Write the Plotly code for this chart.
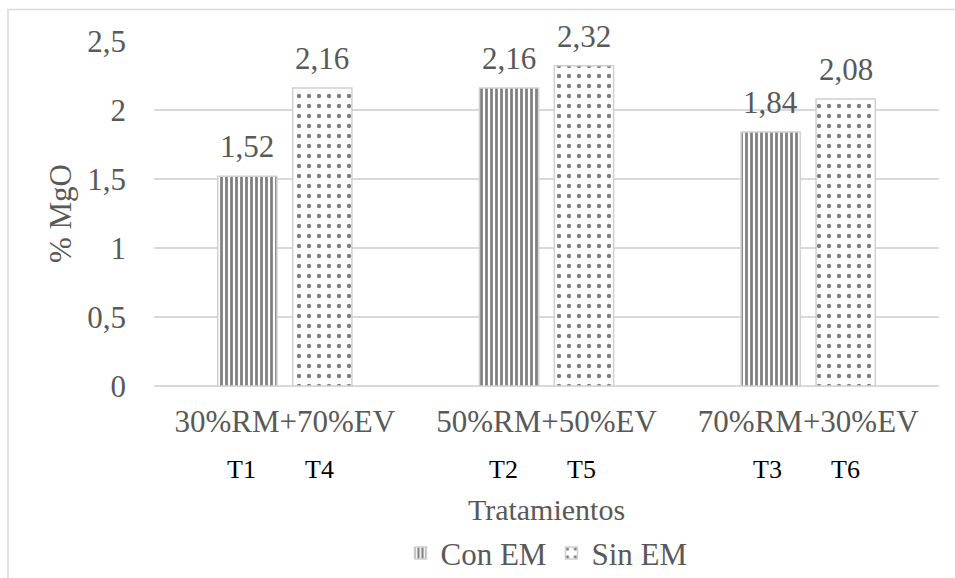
import plotly.graph_objects as go

categories = ["30%RM+70%EV", "50%RM+50%EV", "70%RM+30%EV"]
con_em = [1.52, 2.16, 1.84]
sin_em = [2.16, 2.32, 2.08]
t_con = ["T1", "T2", "T3"]
t_sin = ["T4", "T5", "T6"]
y_ticks = [0, 0.5, 1, 1.5, 2, 2.5]
y_tick_text = ["0", "0,5", "1", "1,5", "2", "2,5"]

def fmt(v):
    return f"{v:.2f}".replace(".", ",")

FONT = "Times New Roman, Liberation Serif, DejaVu Serif, serif"
GRAY = "#595959"

fig = go.Figure()
fig.add_trace(go.Bar(
    name="Con EM", x=categories, y=con_em,
    marker=dict(color="white", line=dict(color="#d0d0d0", width=1.5),
                pattern=dict(shape="|", fgcolor="black", bgcolor="white",
                             size=5, solidity=0.55, fillmode="overlay")),
))
fig.add_trace(go.Bar(
    name="Sin EM", x=categories, y=sin_em,
    marker=dict(color="white", line=dict(color="#d0d0d0", width=1.5),
                pattern=dict(shape=".", fgcolor="black", bgcolor="white",
                             size=10, solidity=0.15, fillmode="overlay")),
))

BAR_OFF = 37.5
for i, c in enumerate(categories):
    fig.add_annotation(x=c, y=con_em[i], xref="x", yref="y", text=fmt(con_em[i]),
                       showarrow=False, xshift=-BAR_OFF, yshift=10, yanchor="bottom",
                       xanchor="center", font=dict(family=FONT, size=31, color=GRAY))
    fig.add_annotation(x=c, y=sin_em[i], xref="x", yref="y", text=fmt(sin_em[i]),
                       showarrow=False, xshift=BAR_OFF, yshift=10, yanchor="bottom",
                       xanchor="center", font=dict(family=FONT, size=31, color=GRAY))

offsets_con = [-43, -43, -41]
offsets_sin = [35, 35, 37]
for i, c in enumerate(categories):
    fig.add_annotation(x=c, y=0, xref="x", yref="paper", text=t_con[i],
                       showarrow=False, xshift=offsets_con[i], yshift=-83,
                       xanchor="center", yanchor="middle",
                       font=dict(family=FONT, size=26, color="black"))
    fig.add_annotation(x=c, y=0, xref="x", yref="paper", text=t_sin[i],
                       showarrow=False, xshift=offsets_sin[i], yshift=-83,
                       xanchor="center", yanchor="middle",
                       font=dict(family=FONT, size=26, color="black"))

# outer chart border (top & left visible)
fig.add_shape(type="rect", xref="paper", yref="paper",
              x0=(8 - 154) / 785, x1=1.05, y0=-0.6, y1=(386 - 9.5) / 345,
              line=dict(color="#d9d9d9", width=1.5), layer="below")

fig.update_layout(
    width=955, height=578,
    margin=dict(l=154, r=16, t=41, b=192, autoexpand=False),
    paper_bgcolor="white", plot_bgcolor="white",
    barmode="group", bargap=0.427, bargroupgap=0.21,
    font=dict(family=FONT, size=31, color=GRAY),
    showlegend=True,
    legend=dict(orientation="h", x=0.5, xanchor="center", y=-0.485, yanchor="middle",
                font=dict(family=FONT, size=31, color=GRAY),
                itemwidth=30, traceorder="normal"),
    xaxis=dict(showgrid=False, showline=False, ticks="", ticklabelstandoff=14,
               automargin=False,
               tickfont=dict(family=FONT, size=31, color=GRAY),
               title=dict(text="Tratamientos", standoff=60,
                          font=dict(family=FONT, size=30, color=GRAY))),
    yaxis=dict(range=[0, 2.5], tickvals=y_ticks, ticktext=y_tick_text,
               showgrid=True, gridcolor="#d9d9d9", gridwidth=1.5,
               zeroline=True, zerolinecolor="#d9d9d9", zerolinewidth=1.5,
               ticks="", ticklabelstandoff=27, automargin=False,
               tickfont=dict(family=FONT, size=31, color=GRAY),
               title=dict(text="% MgO", standoff=6,
                          font=dict(family=FONT, size=31, color=GRAY))),
)

fig.write_html("out.html")
